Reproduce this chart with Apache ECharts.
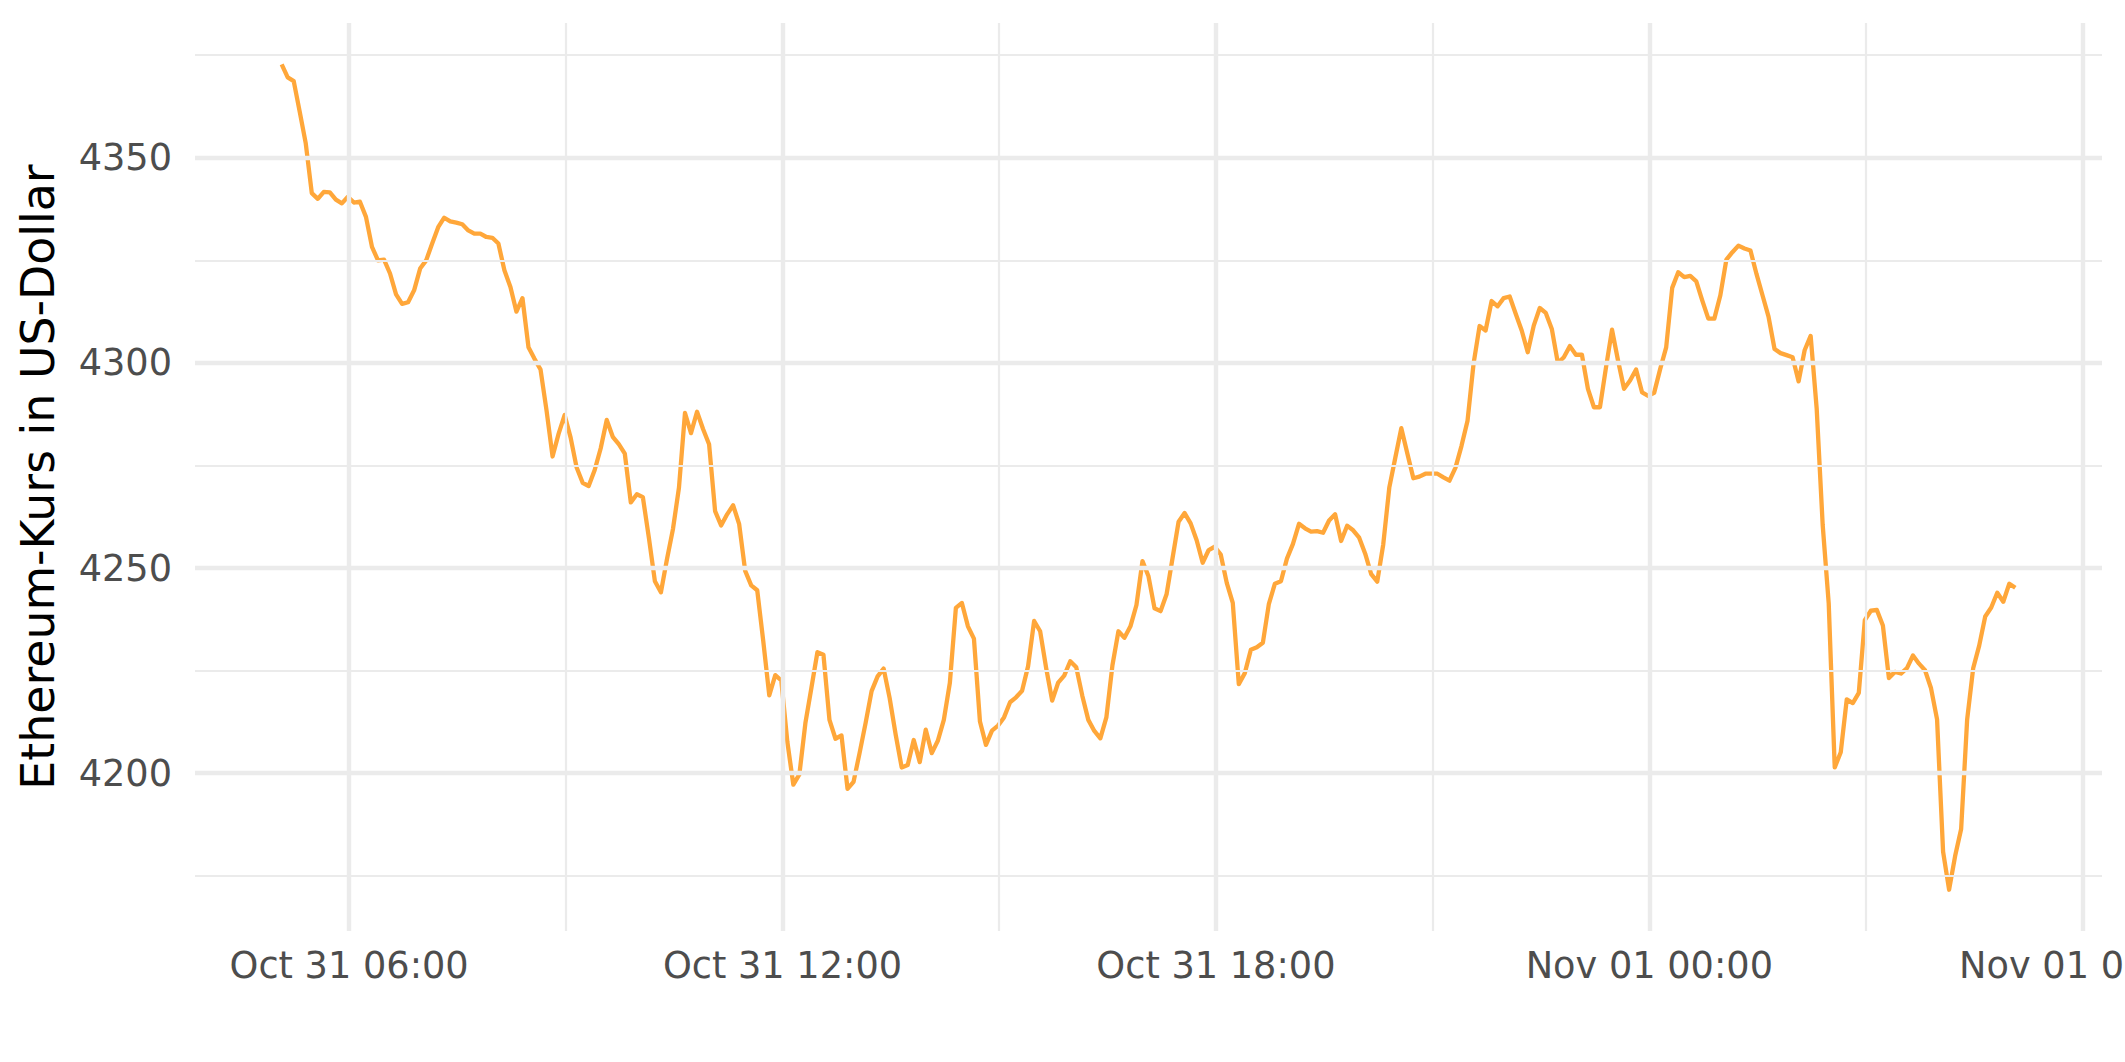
<!DOCTYPE html>
<html>
<head>
<meta charset="utf-8">
<script src="https://cdn.jsdelivr.net/npm/echarts@6/dist/echarts.min.js"></script>
<style>
  html, body { margin: 0; padding: 0; background: #fff; }
  #chart { width: 2125px; height: 1062px; }
</style>
</head>
<body>
<div id="chart"></div>
<script>
// ---- Data (5-minute Ethereum prices) ----
const START_TIME = '2021-10-31T05:04:00Z';
const STEP_MINUTES = 5;
const prices = [
  4372.8, 4369.6, 4368.7, 4361.2, 4353.5, 4341.4, 4340.0, 4341.7, 4341.6, 4339.8,
  4338.9, 4340.5, 4339.1, 4339.3, 4335.6, 4328.3, 4325.0, 4325.2, 4321.8, 4316.7,
  4314.4, 4314.8, 4317.7, 4323.0, 4325.0, 4329.1, 4333.1, 4335.4, 4334.5, 4334.2,
  4333.8, 4332.3, 4331.5, 4331.5, 4330.7, 4330.5, 4329.1, 4322.6, 4318.5, 4312.5,
  4315.8, 4303.8, 4301.0, 4298.4, 4288.4, 4277.2, 4282.7, 4287.3, 4281.8, 4274.5,
  4270.8, 4270.0, 4273.9, 4279.2, 4286.1, 4282.0, 4280.2, 4277.9, 4266.0, 4268.0,
  4267.3, 4257.4, 4246.8, 4244.1, 4252.1, 4259.5, 4269.6, 4287.8, 4282.9, 4288.1,
  4283.9, 4280.2, 4263.9, 4260.4, 4263.1, 4265.3, 4260.7, 4249.3, 4245.8, 4244.6,
  4232.2, 4219.0, 4223.9, 4222.6, 4207.7, 4197.2, 4199.7, 4212.2, 4220.8, 4229.5,
  4228.9, 4213.0, 4208.4, 4209.2, 4196.2, 4197.9, 4204.9, 4212.2, 4220.0, 4223.6,
  4225.5, 4218.3, 4209.4, 4201.4, 4202.0, 4208.1, 4202.7, 4210.6, 4204.9, 4207.9,
  4213.0, 4222.0, 4240.3, 4241.5, 4235.8, 4232.8, 4212.6, 4206.9, 4210.4, 4211.6,
  4213.6, 4217.3, 4218.5, 4220.1, 4226.1, 4237.1, 4234.6, 4225.6, 4217.7, 4222.1,
  4223.8, 4227.3, 4225.8, 4218.9, 4213.0, 4210.3, 4208.5, 4213.6, 4226.2, 4234.6,
  4233.0, 4235.8, 4241.0, 4251.7, 4248.0, 4240.2, 4239.5, 4243.6, 4252.5, 4261.3,
  4263.4, 4260.9, 4256.8, 4251.3, 4254.4, 4255.2, 4253.3, 4246.4, 4241.5, 4221.7,
  4224.4, 4230.1, 4230.7, 4231.8, 4241.3, 4246.2, 4246.8, 4252.3, 4255.9, 4260.8,
  4259.7, 4258.9, 4259.0, 4258.6, 4261.6, 4263.1, 4256.6, 4260.3, 4259.2, 4257.4,
  4253.5, 4248.5, 4246.7, 4255.8, 4269.6, 4276.9, 4284.1, 4277.9, 4271.9, 4272.3,
  4273.0, 4273.0, 4273.0, 4272.1, 4271.3, 4274.5, 4279.8, 4285.9, 4299.8, 4309.0,
  4307.9, 4315.1, 4313.8, 4315.8, 4316.2, 4312.0, 4307.9, 4302.6, 4309.1, 4313.4,
  4312.2, 4308.3, 4300.0, 4301.4, 4304.1, 4302.0, 4302.0, 4293.7, 4289.2, 4289.2,
  4298.9, 4308.1, 4300.6, 4293.7, 4295.7, 4298.4, 4292.8, 4292.0, 4292.7, 4298.5,
  4303.8, 4318.3, 4322.1, 4320.9, 4321.2, 4319.9, 4315.2, 4310.8, 4310.8, 4316.5,
  4325.2, 4327.0, 4328.6, 4327.9, 4327.4, 4321.7, 4316.5, 4311.3, 4303.4, 4302.4,
  4301.9, 4301.4, 4295.5, 4303.1, 4306.6, 4288.9, 4260.5, 4241.4, 4201.4, 4205.1,
  4218.0, 4217.1, 4219.6, 4237.3, 4239.6, 4239.8, 4236.0, 4223.2, 4224.7, 4224.3,
  4225.6, 4228.7, 4226.7, 4225.1, 4220.7, 4213.1, 4180.9, 4171.6, 4179.8, 4186.4,
  4213.1, 4225.6, 4231.1, 4238.2, 4240.4, 4244.0, 4241.8, 4246.2, 4245.2
];
const yMajorTicks = [4200, 4250, 4300, 4350];
const yMinorTicks = [4175, 4225, 4275, 4325, 4375];
const xMajorTicks = ['2021-10-31T06:00:00Z', '2021-10-31T12:00:00Z', '2021-10-31T18:00:00Z',
                     '2021-11-01T00:00:00Z', '2021-11-01T06:00:00Z'];
const xMinorTicks = ['2021-10-31T09:00:00Z', '2021-10-31T15:00:00Z', '2021-10-31T21:00:00Z',
                     '2021-11-01T03:00:00Z'];
const yTitle = 'Ethereum-Kurs in US-Dollar';

// ---- Build ----
const t0 = Date.parse(START_TIME);
const stepMs = STEP_MINUTES * 60 * 1000;
const seriesData = prices.map((p, i) => [t0 + i * stepMs, p]);
const tFirst = seriesData[0][0], tLast = seriesData[seriesData.length - 1][0];
const tSpan = tLast - tFirst;
const pMin = Math.min(...prices), pMax = Math.max(...prices);
const pSpan = pMax - pMin;

const MONTHS = ['Jan','Feb','Mar','Apr','May','Jun','Jul','Aug','Sep','Oct','Nov','Dec'];
function pad(n) { return (n < 10 ? '0' : '') + n; }
function fmtTime(ms) {
  const d = new Date(ms);
  return MONTHS[d.getUTCMonth()] + ' ' + pad(d.getUTCDate()) + ' ' + pad(d.getUTCHours()) + ':' + pad(d.getUTCMinutes());
}

const FONT = 'DejaVu Sans';
const GRID_COLOR = '#EBEBEB';
const tickLabel = { fontFamily: FONT, fontSize: 36.7, color: '#4D4D4D' };

const gridLines = [];
yMinorTicks.forEach(v => gridLines.push({ yAxis: v, lineStyle: { width: 2.2, color: GRID_COLOR, type: 'solid' }, label: { show: false } }));
xMinorTicks.forEach(s => gridLines.push({ xAxis: Date.parse(s), lineStyle: { width: 2.2, color: GRID_COLOR, type: 'solid' }, label: { show: false } }));
yMajorTicks.forEach(v => gridLines.push({
  yAxis: v, lineStyle: { width: 4.4, color: GRID_COLOR, type: 'solid' },
  label: Object.assign({ show: true, position: 'start', distance: 23, formatter: String(v) }, tickLabel)
}));
xMajorTicks.forEach(s => gridLines.push({
  xAxis: Date.parse(s), lineStyle: { width: 4.4, color: GRID_COLOR, type: 'solid' },
  label: Object.assign({ show: true, position: 'start', distance: 16, formatter: fmtTime(Date.parse(s)) }, tickLabel)
}));

const chart = echarts.init(document.getElementById('chart'), null, { renderer: 'svg', width: 2125, height: 1062 });
chart.setOption({
  animation: false,
  backgroundColor: '#FFFFFF',
  grid: { left: 195, right: 23, top: 23, bottom: 131, containLabel: false },
  xAxis: {
    type: 'value',
    min: tFirst - 0.05 * tSpan,
    max: tLast + 0.05 * tSpan,
    axisLine: { show: false }, axisTick: { show: false }, axisLabel: { show: false }, splitLine: { show: false }
  },
  yAxis: {
    type: 'value',
    min: pMin - 0.05 * pSpan,
    max: pMax + 0.05 * pSpan,
    name: yTitle,
    nameLocation: 'middle',
    nameGap: 134,
    nameTextStyle: { fontFamily: FONT, fontSize: 45.8, color: '#000000' },
    axisLine: { show: false }, axisTick: { show: false }, axisLabel: { show: false }, splitLine: { show: false }
  },
  series: [
    {
      type: 'line', z: 1, silent: true, data: seriesData, showSymbol: false,
      lineStyle: { opacity: 0 },
      markLine: { silent: true, symbol: ['none', 'none'], animation: false, precision: 4, data: gridLines }
    },
    {
      type: 'line', z: 2, data: seriesData, showSymbol: false, silent: true,
      lineStyle: { color: '#FFA73A', width: 4.3, join: 'round', cap: 'butt' }
    }
  ]
});
</script>
</body>
</html>
